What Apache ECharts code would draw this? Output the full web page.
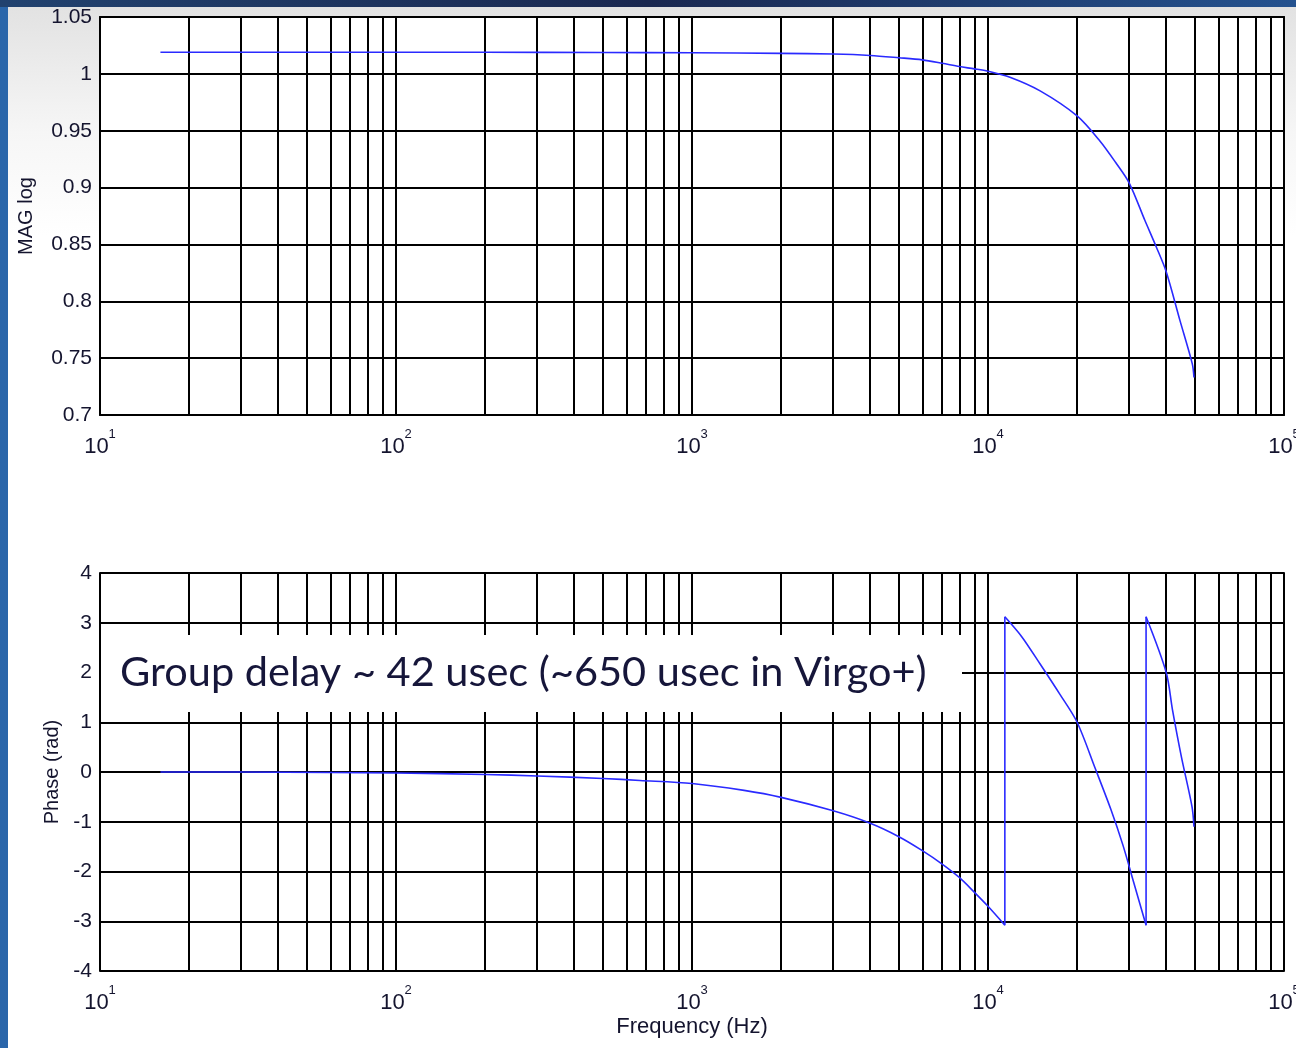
<!DOCTYPE html>
<html>
<head>
<meta charset="utf-8">
<script src="https://cdn.jsdelivr.net/npm/echarts@6/dist/echarts.min.js"></script>
<style>
  html, body { margin: 0; padding: 0; }
  body {
    width: 1296px; height: 1048px; overflow: hidden; position: relative;
    background: linear-gradient(90deg, #2a66aa, #1f4f8f);
  }
  .topband {
    position: absolute; left: 0; top: 0; width: 1296px; height: 7px;
    background: linear-gradient(90deg, #21426f, #1a2850 50%, #24528f);
  }
  .slide {
    position: absolute; left: 8px; top: 7px; right: 0; bottom: 0;
    background: linear-gradient(180deg, #e2e2e2 0%, #f6f6f6 12%, #ffffff 22%);
  }
  #chart { position: absolute; left: 0; top: 0; width: 1296px; height: 1048px; }
</style>
</head>
<body>
<div class="topband"></div>
<div class="slide"></div>
<div id="chart"></div>
<script>
// magnitude trace (Hz, linear gain)
const magFreq = [16, 100, 200, 500, 1000, 2000, 3000, 4000, 5000, 6000, 7000, 8000, 9000, 10000,
  11860, 15000, 20000, 23880, 27000, 30000, 33900, 37000, 40000, 44530, 49000, 49640];
const magVals = [1.019, 1.019, 1.019, 1.0188, 1.0185, 1.018, 1.0174, 1.0162, 1.0142, 1.0123, 1.0093,
  1.0064, 1.0044, 1.0023, 0.997, 0.985, 0.963, 0.941, 0.922, 0.904, 0.871, 0.848, 0.826, 0.783,
  0.745, 0.733];

// phase trace (Hz, rad), wraps at +-pi (a repeated frequency marks a wrap)
const phaseFreq = [16, 30, 60, 100, 200, 300, 500, 667, 1000, 1500, 2000, 3000, 4000, 5000, 6000,
  7000, 8000, 9000, 10000, 11400, 11400, 13000, 15000, 17500, 20000, 23000, 26000, 28600, 31000,
  34200, 34200, 40000, 42000, 45000, 48900, 49640];
const phaseVals = [0, 0, -0.01, -0.02, -0.05, -0.08, -0.13, -0.17, -0.23, -0.37, -0.51, -0.78, -1.03,
  -1.30, -1.58, -1.85, -2.12, -2.42, -2.70, -3.08, 3.12, 2.72, 2.17, 1.56, 1.0, 0.08, -0.75, -1.48,
  -2.20, -3.08, 3.12, 2.0, 1.25, 0.31, -0.70, -1.1];

// minor grid lines of the log frequency axis
const minorFreqs = [20, 30, 40, 50, 60, 70, 80, 90,
  200, 300, 400, 500, 600, 700, 800, 900,
  2000, 3000, 4000, 5000, 6000, 7000, 8000, 9000,
  20000, 30000, 40000, 50000, 60000, 70000, 80000, 90000];

const magTicks = { min: 0.7, max: 1.05, interval: 0.05 };
const phaseTicks = { min: -4, max: 4, interval: 1 };
const noteText = 'Group delay ~ 42 usec (~650 usec in Virgo+)';

const FONT = 'Liberation Sans, Arial, sans-serif';
const INK = '#14142e';
const BLUE = '#2a2aff';
const GRID = { color: '#000', width: 2 };

function xMain(gridIndex, withName) {
  return {
    type: 'log', logBase: 10, min: 10, max: 100000, gridIndex,
    axisLine: { show: true, lineStyle: GRID },
    axisTick: { show: true, inside: true, length: 5, lineStyle: { color: '#000', width: 1 } },
    splitLine: { show: true, lineStyle: GRID },
    axisLabel: {
      margin: 13, color: INK, fontFamily: FONT,
      formatter: v => '{b|10}{s|' + Math.round(Math.log10(v)) + '}',
      rich: {
        b: { fontSize: 22, lineHeight: 30, verticalAlign: 'bottom', fontFamily: FONT, color: INK },
        s: { fontSize: 13, lineHeight: 14, verticalAlign: 'top', fontFamily: FONT, color: INK }
      }
    },
    name: withName ? 'Frequency (Hz)' : '',
    nameLocation: 'middle', nameGap: 45,
    nameTextStyle: { fontSize: 22, fontFamily: FONT, color: INK }
  };
}
function xTop(gridIndex) {
  return {
    type: 'log', logBase: 10, min: 10, max: 100000, gridIndex, position: 'top',
    axisLine: { show: true, lineStyle: GRID },
    axisTick: { show: true, inside: true, length: 5, lineStyle: { color: '#000', width: 1 } },
    axisLabel: { show: false }, splitLine: { show: false }
  };
}
function yMain(gridIndex, ticks, name, gap) {
  return {
    type: 'value', gridIndex, min: ticks.min, max: ticks.max, interval: ticks.interval,
    axisLine: { show: true, lineStyle: GRID },
    axisTick: { show: true, inside: true, length: 6, lineStyle: { color: '#000', width: 2 } },
    splitLine: { show: true, lineStyle: GRID },
    axisLabel: {
      margin: 8, color: INK, fontSize: 21, fontFamily: FONT,
      formatter: v => String(+v.toFixed(2))
    },
    name, nameLocation: 'middle', nameGap: gap,
    nameTextStyle: { fontSize: 20, fontFamily: FONT, color: INK }
  };
}
function yRight(gridIndex, ticks) {
  return {
    type: 'value', gridIndex, position: 'right', min: ticks.min, max: ticks.max, interval: ticks.interval,
    axisLine: { show: true, lineStyle: GRID },
    axisTick: { show: true, inside: true, length: 6, lineStyle: { color: '#000', width: 2 } },
    axisLabel: { show: false }, splitLine: { show: false }
  };
}
function minorGrid(xi, yi) {
  return {
    type: 'line', xAxisIndex: xi, yAxisIndex: yi, data: [], z: 1, silent: true,
    markLine: {
      silent: true, symbol: ['none', 'none'], animation: false,
      label: { show: false },
      lineStyle: { color: '#000', width: 2, type: 'solid' },
      emphasis: { disabled: true },
      data: minorFreqs.map(f => ({ xAxis: f }))
    }
  };
}
function trace(xi, yi, pts, smooth) {
  return {
    type: 'line', xAxisIndex: xi, yAxisIndex: yi, z: 5, silent: true,
    data: pts, showSymbol: false, symbol: 'none',
    smooth: smooth ? 0.3 : false,
    connectNulls: false,
    lineStyle: { color: BLUE, width: 1.6 }
  };
}

// split the phase trace at its wraps
const phaseSegs = [[]];
const wrapPts = [];
phaseFreq.forEach((f, i) => {
  if (i > 0 && f === phaseFreq[i - 1]) {
    wrapPts.push([f, phaseVals[i - 1]], [f, phaseVals[i]], [f, null]);
    phaseSegs.push([]);
  }
  phaseSegs[phaseSegs.length - 1].push([f, phaseVals[i]]);
});

const series = [
  minorGrid(0, 0),
  trace(0, 0, magFreq.map((f, i) => [f, magVals[i]]), true),
  minorGrid(2, 2),
  trace(2, 2, wrapPts, false)
];
phaseSegs.forEach(seg => series.push(trace(2, 2, seg, true)));

const gridBase = { left: 100, width: 1184, height: 398, outerBoundsMode: 'none', containLabel: false,
  show: true, backgroundColor: '#fff', borderWidth: 0 };

const chart = echarts.init(document.getElementById('chart'), null, { renderer: 'canvas' });
chart.setOption({
  animation: false,
  backgroundColor: 'transparent',
  grid: [
    Object.assign({ top: 17 }, gridBase),
    Object.assign({ top: 573 }, gridBase)
  ],
  xAxis: [xMain(0, false), xTop(0), xMain(1, true), xTop(1)],
  yAxis: [
    yMain(0, magTicks, 'MAG log', 64), yRight(0, magTicks),
    yMain(1, phaseTicks, 'Phase (rad)', 38), yRight(1, phaseTicks)
  ],
  series,
  graphic: [
    {
      type: 'rect', z: 100, silent: true,
      shape: { x: 101, y: 635, width: 861, height: 77 },
      style: { fill: '#ffffff' }
    },
    {
      type: 'text', z: 101, silent: true, x: 120, y: 673,
      style: {
        text: noteText, fontSize: 41.5, fontFamily: 'Lato, Open Sans, sans-serif',
        fill: '#16163a', verticalAlign: 'middle'
      }
    }
  ]
});
</script>
</body>
</html>
